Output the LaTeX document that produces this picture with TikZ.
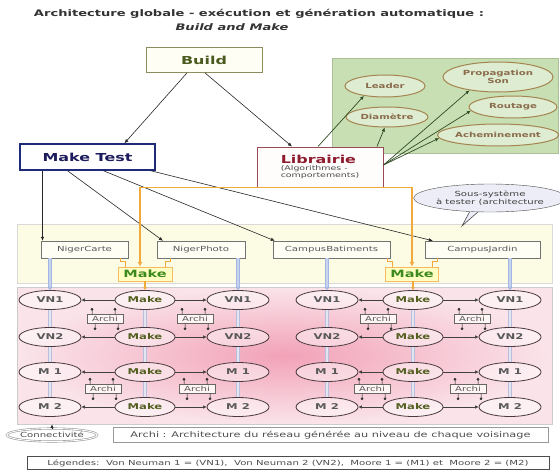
\documentclass[tikz,border=0pt]{standalone}
\usepackage{fontspec}
\setmainfont{DejaVu Sans}[FakeStretch=1.45]
\usetikzlibrary{shapes.geometric,arrows.meta,calc}
\definecolor{buildbd}{HTML}{8C8C60}
\definecolor{buildtx}{HTML}{4B5A1E}
\definecolor{mtbd}{HTML}{1F2A78}
\definecolor{mttx}{HTML}{1C1C5C}
\definecolor{libbd}{HTML}{9A4A55}
\definecolor{libtx}{HTML}{8E1B2E}
\definecolor{panel}{HTML}{C8DFB3}
\definecolor{gelbd}{HTML}{A4844F}
\definecolor{geltx}{HTML}{8A6C4C}
\definecolor{garr}{HTML}{2F4A22}
\definecolor{yreg}{HTML}{FCFCE4}
\definecolor{orng}{HTML}{F2A93B}
\definecolor{bluearr}{HTML}{A3B6E3}
\definecolor{vconc}{HTML}{B8BEDC}
\definecolor{mkfill}{HTML}{FFFFC4}
\definecolor{mktx}{HTML}{3C8A1E}
\definecolor{pinkin}{HTML}{F2A2B8}
\definecolor{pinkout}{HTML}{FAE4EA}
\definecolor{elbd}{HTML}{4A3A40}
\definecolor{bubfill}{HTML}{EDEDF7}
\begin{document}
\begin{tikzpicture}[x=1pt,y=-1pt,
  arr/.style={draw=black!85, line width=0.6pt, -{Latex[length=4pt,width=3.5pt]}},
  garrow/.style={draw=garr, line width=0.7pt, -{Latex[length=4pt,width=3.5pt]}},
  harr/.style={draw=black!75, line width=0.6pt, -{Latex[length=3.5pt,width=3.5pt]}},
  subbox/.style={draw=black!55, fill=white!96!yellow, minimum height=17, inner sep=0, font=\fontsize{7}{8}\selectfont, text=black!65},
  gell/.style={ellipse, draw=gelbd, line width=1pt, fill=panel!60!white, inner sep=0, font=\bfseries\fontsize{7}{7.5}\selectfont, text=geltx, align=center},
  pell/.style={ellipse, draw=elbd, line width=0.8pt, fill=white, fill opacity=0.45, text opacity=1, minimum width=62, minimum height=19, inner sep=0, font=\bfseries\fontsize{8}{8}\selectfont, text=black!65},
  mell/.style={pell, text=mktx!60!black!70!brown},
  mkbox/.style={draw=orng!80, fill=mkfill, minimum width=54, minimum height=14, inner sep=0, font=\bfseries\fontsize{10}{10}\selectfont, text=mktx},
  orln/.style={draw=orng, line width=1.6pt},
  orthin/.style={draw=orng, line width=0.8pt},
  bluea/.style={draw=bluearr, line width=1.3pt, double=white!40!bluearr, double distance=1.6pt, -{Latex[length=3pt,width=6pt]}},
  vcon/.style={draw=vconc, line width=1pt, double=white!60!vconc, double distance=1.4pt},
  archi/.style={draw=black!60, fill=white!85!pink, minimum width=36, minimum height=9, inner sep=0.5pt, font=\fontsize{7}{7}\selectfont, text=black!65},
  archl/.style={draw=black!80, fill=black!80, line width=0.5pt}]
\useasboundingbox (0,0) rectangle (560,471);

% title
\node[font=\bfseries\fontsize{9}{10}\selectfont, text=black!80, inner sep=0] (t1) at (259,14) {Architecture globale - exécution et génération automatique :};
\node[font=\bfseries\itshape\fontsize{9}{10}\selectfont, text=black!80, inner sep=0] (t2) at (232,27) {Build and Make};

% background regions
\node[fill=panel, draw=panel!85!black, minimum width=226, minimum height=95, inner sep=0] (gp) at (445,105.5) {};
\node[fill=yreg, draw=gray!30, minimum width=535, minimum height=59, inner sep=0] (yr) at (284.5,253.5) {};
\node[draw=gray!40, inner color=pinkin, outer color=pinkout, minimum width=535, minimum height=137, inner sep=0] (pink) at (284.5,355.5) {};

% top nodes
\node[draw=buildbd, fill=yellow!4, line width=0.8pt, minimum width=116, minimum height=25, inner sep=0, font=\bfseries\fontsize{11}{11}\selectfont, text=buildtx] (build) at (204,60) {Build};
\node[draw=mtbd, line width=1.5pt, fill=white, minimum width=135, minimum height=26, inner sep=0, font=\bfseries\fontsize{11}{11}\selectfont, text=mttx] (mt) at (87.5,157) {Make Test};
\node[draw=libbd, line width=1pt, fill=white!95!pink, minimum width=126, minimum height=40, inner sep=0, text=black!70, font=\fontsize{6.5}{7}\selectfont] (lib) at (320,167) {\begin{tabular}{@{}l@{}}{\bfseries\fontsize{11}{11}\selectfont\textcolor{libtx}{Librairie}}\\(Algorithmes -\\comportements)\end{tabular}};

% green ellipses
\node[gell, minimum width=80, minimum height=22] (leader) at (385,86) {Leader};
\node[gell, minimum width=82, minimum height=20] (diam) at (387,117) {Diamètre};
\node[gell, minimum width=110, minimum height=30] (prop) at (498,77) {Propagation\\Son};
\node[gell, minimum width=88, minimum height=22] (rout) at (513,107) {Routage};
\node[gell, minimum width=115, minimum height=22] (ach) at (498,135) {Acheminement};

% speech bubble
\node[ellipse, draw=black!70, fill=bubfill, minimum width=124, minimum height=28, inner sep=0, align=center, font=\fontsize{7}{7.5}\selectfont, text=black!75] (bub) at (490,198) {Sous-système\\à tester (architecture};
\coordinate (tip) at (462,226);
\fill[bubfill] (bub.214) -- (tip) -- (bub.229) -- cycle;
\draw[black!70, line width=0.6pt] (bub.214) -- (tip) -- (bub.229);

% subsystem boxes
\node[subbox, minimum width=87] (nc) at (84.5,249.5) {NigerCarte};
\node[subbox, minimum width=88] (np) at (201,249.5) {NigerPhoto};
\node[subbox, minimum width=117] (cb) at (331.5,249.5) {CampusBatiments};
\node[subbox, minimum width=115] (cj) at (482.5,249.5) {CampusJardin};

% make boxes
\node[mkbox] (mk1) at (145,274) {Make};
\node[mkbox, minimum width=53] (mk2) at (412,274) {Make};

% pink grid
\foreach \c/\x in {A/50,B/238,C/327,D/510} {
  \foreach \r/\y/\t in {1/300/VN1,2/337/VN2,3/372/M 1,4/407/M 2} {
    \node[pell] (\c\r) at (\x,\y) {\t};
  }
}
\foreach \c/\x in {MA/145,MB/413} {
  \foreach \r/\y in {1/300,2/337,3/372,4/407} {
    \node[mell, minimum width=60] (\c\r) at (\x,\y) {Make};
  }
}
\foreach \c in {A,MA,B,C,MB,D} {
  \foreach \r/\n in {1/2,2/3,3/4} {
    \draw[vcon] (\c\r) -- (\c\n);
  }
}
\foreach \r in {1,2,3,4} {
  \draw[harr] (MA\r) -- (A\r);
  \draw[harr] (MA\r) -- (B\r);
  \draw[harr] (MB\r) -- (C\r);
  \draw[harr] (MB\r) -- (D\r);
}

% archi boxes
\node[archi] (ar1) at (105,319) {Archi};
\node[archi] (ar2) at (195,319) {Archi};
\node[archi] (ar3) at (378,319) {Archi};
\node[archi] (ar4) at (472,319) {Archi};
\node[archi] (ar5) at (103,389) {Archi};
\node[archi] (ar6) at (197,389) {Archi};
\node[archi] (ar7) at (372,389) {Archi};
\node[archi] (ar8) at (468,389) {Archi};
\foreach \a in {ar1,ar2,ar3,ar4,ar5,ar6,ar7,ar8} {
  \filldraw[archl] ([xshift=-13]\a.north) -- ++(0,-5) circle[radius=1.1];
  \filldraw[archl] ([xshift=10]\a.north) -- ++(0,-5) circle[radius=1.1];
  \filldraw[archl] ([xshift=-10]\a.south) -- ++(0,5) circle[radius=1.1];
  \filldraw[archl] ([xshift=13]\a.south) -- ++(0,5) circle[radius=1.1];
}

% Build arrows
\draw[arr] ([xshift=-17]build.south) -- ([xshift=37]mt.north);
\draw[arr] ([xshift=1]build.south) -- ([xshift=-28]lib.north);

% Librairie -> green ellipses
\draw[garrow] ([xshift=-2]lib.north) -- (leader.205);
\draw[garrow] ([xshift=57]lib.north) -- (diam.258);
\draw[garrow] ([yshift=2]lib.east) -- (prop.205);
\draw[garrow] ([yshift=2]lib.east) -- (rout.185);
\draw[garrow] ([yshift=2]lib.east) -- (ach.183);

% Make Test arrows
\coordinate (mt1) at ([xshift=-45]mt.south);
\draw[arr] (mt1) -- (mt1 |- nc.north);
\draw[arr] ([xshift=-20]mt.south) -- ([xshift=-38]np.north);
\draw[arr] ([xshift=16]mt.south) -- ([xshift=2]cb.north west);
\draw[arr] ([xshift=-5]mt.south east) -- ([xshift=8]cj.north west);

% orange lines
\draw[orln, -{Latex[length=5pt,width=5pt]}] (lib.south) -| ([xshift=-5]mk1.north);
\draw[orln, -{Latex[length=5pt,width=5pt]}] (lib.south) -| ([xshift=0]mk2.north);
\draw[orln, -{Latex[length=3pt,width=4pt]}] (mk1.south) -- (MA1.north);
\draw[orln, -{Latex[length=3pt,width=4pt]}] (MB1.north |- mk2.south) -- (MB1.north);
\foreach \m in {mk1,mk2} {
  \draw[orthin] ([xshift=-25]\m.north) ++(0,-9) -- ++(0,4) -- ++(5,0) -- ++(0,5);
  \draw[orthin] ([xshift=25]\m.north) ++(0,-9) -- ++(0,4) -- ++(-5,0) -- ++(0,5);
}

% blue arrows
\draw[bluea] (A1.north |- nc.south) -- (A1.north);
\draw[bluea] (B1.north |- np.south) -- (B1.north);
\draw[bluea] (C1.north |- cb.south) -- (C1.north);
\draw[bluea] (D1.north |- cj.south) -- (D1.north);

% bottom legends
\node[ellipse, draw=gray!80, line width=0.6pt, double=white, double distance=0.9pt, minimum width=78, minimum height=13, inner sep=0, font=\fontsize{7}{7}\selectfont, text=black!70] (conn) at (52,435) {Connectivité};
\draw[arr] (conn.north) -- (conn.north |- pink.south);
\node[draw=gray!80, line width=0.8pt, minimum width=435, minimum height=15, inner sep=0, font=\fontsize{7.8}{8}\selectfont, text=black!70] (archleg) at (330.5,435) {Archi : Architecture du réseau générée au niveau de chaque voisinage};
\node[draw=black!70, line width=0.6pt, minimum width=522, minimum height=13, inner sep=0, font=\fontsize{7}{7}\selectfont, text=black!70] (leg) at (288,463) {Légendes:\ \ Von Neuman 1 = (VN1),\ \ Von Neuman 2 (VN2),\ \ Moore 1 = (M1) et\ \ Moore 2 = (M2)};
\end{tikzpicture}
\end{document}
